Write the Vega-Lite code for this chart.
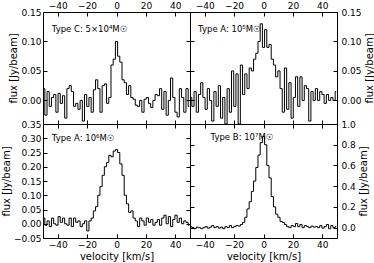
{
"$schema":"https://vega.github.io/schema/vega-lite/v6.json",
"padding":0,
"background":"white",
"bounds":"flush",
"datasets":{
"tl":[{"v":-49.5,"f":0.02},{"v":-48,"f":-0.025},{"v":-46.5,"f":0.015},{"v":-45,"f":-0.01},{"v":-43.5,"f":0.005},{"v":-42,"f":0.01},{"v":-40.5,"f":-0.02},{"v":-39,"f":0.012},{"v":-37.5,"f":-0.005},{"v":-36,"f":0.008},{"v":-34.5,"f":-0.03},{"v":-33,"f":0.02},{"v":-31.5,"f":0.025},{"v":-30,"f":0.015},{"v":-28.5,"f":-0.01},{"v":-27,"f":-0.005},{"v":-25.5,"f":-0.015},{"v":-24,"f":0.0},{"v":-22.5,"f":-0.035},{"v":-21,"f":0.01},{"v":-19.5,"f":-0.01},{"v":-18,"f":0.005},{"v":-16.5,"f":-0.02},{"v":-15,"f":0.018},{"v":-13.5,"f":0.035},{"v":-12,"f":0.02},{"v":-10.5,"f":-0.02},{"v":-9,"f":0.025},{"v":-7.5,"f":0.028},{"v":-6,"f":-0.005},{"v":-4.5,"f":0.005},{"v":-3,"f":0.06},{"v":-1.5,"f":0.07},{"v":0,"f":0.1},{"v":1.5,"f":0.075},{"v":3,"f":0.065},{"v":4.5,"f":0.035},{"v":6,"f":0.03},{"v":7.5,"f":0.01},{"v":9,"f":0.025},{"v":10.5,"f":0.005},{"v":12,"f":0.002},{"v":13.5,"f":-0.008},{"v":15,"f":-0.01},{"v":16.5,"f":0.0},{"v":18,"f":-0.02},{"v":19.5,"f":0.002},{"v":21,"f":0.005},{"v":22.5,"f":-0.005},{"v":24,"f":-0.012},{"v":25.5,"f":0.0},{"v":27,"f":0.01},{"v":28.5,"f":0.008},{"v":30,"f":0.02},{"v":31.5,"f":-0.015},{"v":33,"f":0.015},{"v":34.5,"f":-0.025},{"v":36,"f":0.0},{"v":37.5,"f":0.038},{"v":39,"f":0.005},{"v":40.5,"f":-0.02},{"v":42,"f":-0.028},{"v":43.5,"f":0.02},{"v":45,"f":0.005},{"v":46.5,"f":-0.02},{"v":48,"f":0.02},{"v":49.5,"f":-0.01}],
"tr":[{"v":-49.5,"f":0.005},{"v":-48,"f":-0.01},{"v":-46.5,"f":0.015},{"v":-45,"f":-0.02},{"v":-43.5,"f":0.01},{"v":-42,"f":0.03},{"v":-40.5,"f":0.005},{"v":-39,"f":-0.015},{"v":-37.5,"f":0.02},{"v":-36,"f":0.0},{"v":-34.5,"f":-0.035},{"v":-33,"f":0.015},{"v":-31.5,"f":-0.01},{"v":-30,"f":0.025},{"v":-28.5,"f":-0.03},{"v":-27,"f":0.005},{"v":-25.5,"f":-0.04},{"v":-24,"f":0.02},{"v":-22.5,"f":-0.02},{"v":-21,"f":0.05},{"v":-19.5,"f":-0.01},{"v":-18,"f":0.045},{"v":-16.5,"f":-0.04},{"v":-15,"f":0.06},{"v":-13.5,"f":0.01},{"v":-12,"f":0.045},{"v":-10.5,"f":0.02},{"v":-9,"f":0.055},{"v":-7.5,"f":0.05},{"v":-6,"f":0.07},{"v":-4.5,"f":0.08},{"v":-3,"f":0.1},{"v":-1.5,"f":0.13},{"v":0,"f":0.09},{"v":1.5,"f":0.12},{"v":3,"f":0.09},{"v":4.5,"f":0.095},{"v":6,"f":0.07},{"v":7.5,"f":0.06},{"v":9,"f":0.04},{"v":10.5,"f":0.05},{"v":12,"f":0.02},{"v":13.5,"f":-0.02},{"v":15,"f":0.055},{"v":16.5,"f":-0.015},{"v":18,"f":0.03},{"v":19.5,"f":-0.03},{"v":21,"f":0.005},{"v":22.5,"f":0.04},{"v":24,"f":-0.01},{"v":25.5,"f":0.04},{"v":27,"f":0.0},{"v":28.5,"f":0.025},{"v":30,"f":0.02},{"v":31.5,"f":-0.035},{"v":33,"f":0.015},{"v":34.5,"f":0.0},{"v":36,"f":0.02},{"v":37.5,"f":0.0},{"v":39,"f":0.015},{"v":40.5,"f":0.01},{"v":42,"f":-0.005},{"v":43.5,"f":0.01},{"v":45,"f":0.0},{"v":46.5,"f":0.005},{"v":48,"f":0.0},{"v":49.5,"f":0.015}],
"bl":[{"v":-49.5,"f":0.02},{"v":-48,"f":-0.005},{"v":-46.5,"f":0.01},{"v":-45,"f":-0.01},{"v":-43.5,"f":0.02},{"v":-42,"f":0.0},{"v":-40.5,"f":-0.005},{"v":-39,"f":0.025},{"v":-37.5,"f":0.005},{"v":-36,"f":0.02},{"v":-34.5,"f":0.0},{"v":-33,"f":-0.005},{"v":-31.5,"f":0.02},{"v":-30,"f":-0.01},{"v":-28.5,"f":0.02},{"v":-27,"f":0.005},{"v":-25.5,"f":0.01},{"v":-24,"f":-0.01},{"v":-22.5,"f":0.0},{"v":-21,"f":0.01},{"v":-19.5,"f":-0.025},{"v":-18,"f":0.01},{"v":-16.5,"f":0.02},{"v":-15,"f":0.045},{"v":-13.5,"f":0.06},{"v":-12,"f":0.1},{"v":-10.5,"f":0.13},{"v":-9,"f":0.17},{"v":-7.5,"f":0.2},{"v":-6,"f":0.215},{"v":-4.5,"f":0.24},{"v":-3,"f":0.235},{"v":-1.5,"f":0.255},{"v":0,"f":0.26},{"v":1.5,"f":0.25},{"v":3,"f":0.21},{"v":4.5,"f":0.17},{"v":6,"f":0.1},{"v":7.5,"f":0.07},{"v":9,"f":0.04},{"v":10.5,"f":0.045},{"v":12,"f":0.02},{"v":13.5,"f":0.01},{"v":15,"f":-0.01},{"v":16.5,"f":0.02},{"v":18,"f":0.01},{"v":19.5,"f":-0.005},{"v":21,"f":0.02},{"v":22.5,"f":0.005},{"v":24,"f":0.015},{"v":25.5,"f":-0.005},{"v":27,"f":0.005},{"v":28.5,"f":0.015},{"v":30,"f":-0.005},{"v":31.5,"f":0.02},{"v":33,"f":0.03},{"v":34.5,"f":0.0},{"v":36,"f":0.025},{"v":37.5,"f":-0.01},{"v":39,"f":0.015},{"v":40.5,"f":0.03},{"v":42,"f":0.005},{"v":43.5,"f":0.02},{"v":45,"f":0.0},{"v":46.5,"f":0.01},{"v":48,"f":0.005},{"v":49.5,"f":-0.005}],
"br":[{"v":-49.5,"f":0.01},{"v":-48,"f":0.0},{"v":-46.5,"f":-0.01},{"v":-45,"f":0.005},{"v":-43.5,"f":0.0},{"v":-42,"f":-0.01},{"v":-40.5,"f":0.0},{"v":-39,"f":0.01},{"v":-37.5,"f":-0.005},{"v":-36,"f":0.005},{"v":-34.5,"f":0.02},{"v":-33,"f":0.0},{"v":-31.5,"f":0.01},{"v":-30,"f":-0.005},{"v":-28.5,"f":0.005},{"v":-27,"f":-0.01},{"v":-25.5,"f":0.01},{"v":-24,"f":0.0},{"v":-22.5,"f":0.02},{"v":-21,"f":0.0},{"v":-19.5,"f":0.01},{"v":-18,"f":0.02},{"v":-16.5,"f":0.015},{"v":-15,"f":0.03},{"v":-13.5,"f":0.05},{"v":-12,"f":0.1},{"v":-10.5,"f":0.18},{"v":-9,"f":0.25},{"v":-7.5,"f":0.35},{"v":-6,"f":0.45},{"v":-4.5,"f":0.58},{"v":-3,"f":0.7},{"v":-1.5,"f":0.82},{"v":0,"f":0.88},{"v":1.5,"f":0.8},{"v":3,"f":0.6},{"v":4.5,"f":0.48},{"v":6,"f":0.3},{"v":7.5,"f":0.2},{"v":9,"f":0.13},{"v":10.5,"f":0.1},{"v":12,"f":0.06},{"v":13.5,"f":0.05},{"v":15,"f":0.03},{"v":16.5,"f":0.01},{"v":18,"f":0.0},{"v":19.5,"f":0.02},{"v":21,"f":0.01},{"v":22.5,"f":0.04},{"v":24,"f":0.01},{"v":25.5,"f":0.03},{"v":27,"f":0.0},{"v":28.5,"f":0.02},{"v":30,"f":0.01},{"v":31.5,"f":0.0},{"v":33,"f":0.015},{"v":34.5,"f":0.005},{"v":36,"f":0.01},{"v":37.5,"f":0.0},{"v":39,"f":0.02},{"v":40.5,"f":-0.005},{"v":42,"f":0.01},{"v":43.5,"f":0.03},{"v":45,"f":-0.01},{"v":46.5,"f":0.02},{"v":48,"f":0.0},{"v":49.5,"f":0.01}]
},
"columns":2,
"spacing":0,
"concat":[
{"width":147,"height":112,"resolve":{"axis":{"x":"independent","y":"independent"}},
 "layer":[
  {"data":{"name":"tl"},"mark":{"type":"line","interpolate":"step","clip":true,"color":"black","strokeWidth":1},
   "encoding":{"x":{"field":"v","type":"quantitative","scale":{"domain":[-50,50],"nice":false,"zero":false},"axis":{"orient":"top","values":[-40,-20,0,20,40],"title":null}},
   "y":{"field":"f","type":"quantitative","scale":{"domain":[-0.04,0.15],"nice":false,"zero":false},"axis":{"orient":"left","values":[0,0.05,0.1,0.15],"format":".2f","title":"flux [Jy/beam]"}}}},
  {"data":{"values":[{"label":"Type C: 5×10⁴M☉"}]},"mark":{"type":"text","align":"left","baseline":"middle","fontSize":8.5,"font":"DejaVu Sans","color":"black"},
   "encoding":{"text":{"field":"label"},
   "x":{"datum":-44,"type":"quantitative","axis":{"orient":"bottom","labels":false,"values":[-40,-20,0,20,40],"title":null,"minExtent":0,"maxExtent":0}},
   "y":{"datum":0.121,"type":"quantitative","axis":{"orient":"right","labels":false,"values":[0,0.05,0.1,0.15],"title":null,"minExtent":0,"maxExtent":0}}}}
 ]},
{"width":147,"height":112,"resolve":{"axis":{"x":"independent","y":"independent"}},
 "layer":[
  {"data":{"name":"tr"},"mark":{"type":"line","interpolate":"step","clip":true,"color":"black","strokeWidth":1},
   "encoding":{"x":{"field":"v","type":"quantitative","scale":{"domain":[-50,50],"nice":false,"zero":false},"axis":{"orient":"top","values":[-40,-20,0,20,40],"title":null}},
   "y":{"field":"f","type":"quantitative","scale":{"domain":[-0.04,0.15],"nice":false,"zero":false},"axis":{"orient":"right","values":[0,0.05,0.1,0.15],"format":".2f","labelPadding":8,"title":"flux [Jy/beam]","titleAngle":270,"titleBaseline":"top","titlePadding":3}}}},
  {"data":{"values":[{"label":"Type A: 10⁵M☉"}]},"mark":{"type":"text","align":"left","baseline":"middle","fontSize":8.5,"font":"DejaVu Sans","color":"black"},
   "encoding":{"text":{"field":"label"},
   "x":{"datum":-44.5,"type":"quantitative","axis":{"orient":"bottom","labels":false,"values":[-40,-20,0,20,40],"title":null,"minExtent":0,"maxExtent":0}},
   "y":{"datum":0.121,"type":"quantitative","axis":{"orient":"left","labels":false,"values":[0,0.05,0.1,0.15],"title":null,"minExtent":0,"maxExtent":0}}}}
 ]},
{"width":147,"height":114,"resolve":{"axis":{"x":"independent","y":"independent"}},
 "layer":[
  {"data":{"name":"bl"},"mark":{"type":"line","interpolate":"step","clip":true,"color":"black","strokeWidth":1},
   "encoding":{"x":{"field":"v","type":"quantitative","scale":{"domain":[-50,50],"nice":false,"zero":false},"axis":{"orient":"bottom","values":[-40,-20,0,20,40],"title":"velocity [km/s]"}},
   "y":{"field":"f","type":"quantitative","scale":{"domain":[-0.05,0.35],"nice":false,"zero":false},"axis":{"orient":"left","values":[-0.05,0,0.05,0.1,0.15,0.2,0.25,0.3,0.35],"format":".2f","title":"flux [Jy/beam]"}}}},
  {"data":{"values":[{"label":"Type A: 10⁶M☉"}]},"mark":{"type":"text","align":"left","baseline":"middle","fontSize":8.5,"font":"DejaVu Sans","color":"black"},
   "encoding":{"text":{"field":"label"},
   "x":{"datum":-44,"type":"quantitative","axis":{"orient":"top","labels":false,"values":[-40,-20,0,20,40],"title":null,"minExtent":0,"maxExtent":0}},
   "y":{"datum":0.3,"type":"quantitative","axis":{"orient":"right","labels":false,"values":[-0.05,0,0.05,0.1,0.15,0.2,0.25,0.3,0.35],"title":null,"minExtent":0,"maxExtent":0}}}}
 ]},
{"width":147,"height":114,"resolve":{"axis":{"x":"independent","y":"independent"}},
 "layer":[
  {"data":{"name":"br"},"mark":{"type":"line","interpolate":"step","clip":true,"color":"black","strokeWidth":1},
   "encoding":{"x":{"field":"v","type":"quantitative","scale":{"domain":[-50,50],"nice":false,"zero":false},"axis":{"orient":"bottom","values":[-40,-20,0,20,40],"title":"velocity [km/s]"}},
   "y":{"field":"f","type":"quantitative","scale":{"domain":[-0.1,1.0],"nice":false,"zero":false},"axis":{"orient":"right","values":[0,0.2,0.4,0.6,0.8,1.0],"format":".1f","labelPadding":8,"title":"flux [Jy/beam]","titleAngle":270,"titleBaseline":"top","titlePadding":3}}}},
  {"data":{"values":[{"label":"Type B: 10⁷M☉"}]},"mark":{"type":"text","align":"left","baseline":"middle","fontSize":8.5,"font":"DejaVu Sans","color":"black"},
   "encoding":{"text":{"field":"label"},
   "x":{"datum":-36,"type":"quantitative","axis":{"orient":"top","labels":false,"values":[-40,-20,0,20,40],"title":null,"minExtent":0,"maxExtent":0}},
   "y":{"datum":0.87,"type":"quantitative","axis":{"orient":"left","labels":false,"values":[0,0.2,0.4,0.6,0.8,1.0],"title":null,"minExtent":0,"maxExtent":0}}}}
 ]}
],
"config":{
 "view":{"stroke":"black","strokeWidth":1},
 "axis":{"domain":false,"grid":false,"tickSize":-4,"tickColor":"black","tickWidth":1,"labelFont":"DejaVu Sans","labelFontSize":9,"labelColor":"black","labelPadding":6,"titleFont":"DejaVu Sans","titleFontSize":10,"titleFontWeight":"normal","titleColor":"black","titlePadding":2}
}
}
